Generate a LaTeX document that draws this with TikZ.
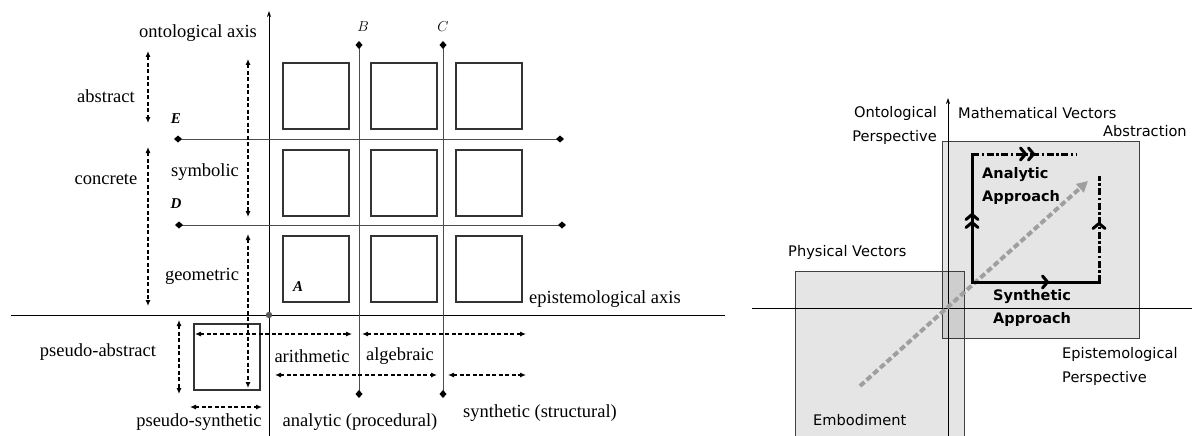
\documentclass[tikz,border=0pt]{standalone}
\usepackage{fontspec}
\setmainfont{Liberation Serif}
\newfontfamily\dejavu{DejaVu Sans}
\usetikzlibrary{arrows.meta, positioning}

\begin{document}
\begin{tikzpicture}[
        x=1pt, y=-1pt,
        every node/.style={inner sep=0pt, font=\fontsize{18.5}{22}\selectfont},
        cell/.style={rectangle, draw=black!80, line width=1.2pt, minimum size=66pt},
        tag/.style={font=\fontsize{15}{17}\selectfont\bfseries\itshape},
        ptlabel/.style={font=\fontsize{14}{16}\selectfont},
        rangearrow/.style={dash pattern=on 4pt off 2.5pt, line width=1.1pt, {Latex[length=6pt,width=5pt]}-{Latex[length=6pt,width=5pt]}},
        gridline/.style={black!70, line width=1pt, {Diamond[length=8pt,width=7pt,color=black]}-{Diamond[length=8pt,width=7pt,color=black]}},
        axisline/.style={line width=0.9pt},
        sans/.style={font=\dejavu\fontsize{14.6}{24}\selectfont, align=left},
        sansbold/.style={font=\dejavu\bfseries\fontsize{14.5}{23}\selectfont, align=left},
        region/.style={draw=black!75, line width=0.8pt, fill=black, fill opacity=0.1},
        solidpath/.style={line width=3pt},
        dashdotpath/.style={line width=3pt, dash pattern=on 7pt off 2.5pt on 2.5pt off 2.5pt},
        barb/.tip={Straight Barb[length=5pt, width=12pt, line width=3pt 0, round]}
    ]
        \useasboundingbox (0,0) rectangle (1192,436);

        % left figure
        \foreach \r/\y in {1/96, 2/183, 3/269}
            \foreach \c/\x in {1/316, 2/404, 3/489}
                \node (cell-\r-\c) [cell] at (\x,\y) {};
        \node (pseudo) [cell] at (227,357) {};

        \coordinate (origin) at (269,315);
        \draw [axisline, -{Stealth[length=6pt,width=4pt]}] (269,436) -- (269,11);
        \draw [axisline] (11,315) -- (725,315);
        \fill [black!65] (origin) circle (3.2pt);

        \draw [gridline] (359,41) -- (359,398);
        \draw [gridline] (443,41) -- (443,398);
        \draw [gridline] (174,139) -- (564,139);
        \draw [gridline] (175,225) -- (566,225);

        \draw [rangearrow] (148,51) -- (148,123);
        \draw [rangearrow] (148,147) -- (148,306);
        \draw [rangearrow] (248,59) -- (248,217);
        \draw [rangearrow] (248,234) -- (248,388);
        \draw [rangearrow] (179,320) -- (179,394);
        \draw [rangearrow] (190,407) -- (262,407);
        \draw [rangearrow] (195,334) -- (352,334);
        \draw [rangearrow] (362,334) -- (526,334);
        \draw [rangearrow] (275,375) -- (437,375);
        \draw [rangearrow] (448,375) -- (526,375);

        \node (ontAxis) at (198,33) {ontological axis};
        \node (lblB) [ptlabel] at (363,27) {$B$};
        \node (lblC) [ptlabel] at (443,27) {$C$};
        \node (abstract) at (106,96) {abstract};
        \node (lblE) [tag] at (176,119) {E};
        \node (concrete) at (106,179) {concrete};
        \node (symbolic) at (205,172) {symbolic};
        \node (lblD) [tag] at (176,204) {D};
        \node (geometric) at (202,276) {geometric};
        \node (lblA) [tag] at (298,287) {A};
        \node (epiAxis) [anchor=west] at (529,299) {epistemological axis};
        \node (pseudoAbs) at (98,352) {pseudo-abstract};
        \node (arithmetic) at (312,356) {arithmetic};
        \node (algebraic) at (400,356) {algebraic};
        \node (pseudoSyn) at (199,422) {pseudo-synthetic};
        \node (analytic) at (360,422) {analytic (procedural)};
        \node (synthetic) [anchor=west] at (463,413) {synthetic (structural)};

        % right figure
        \draw [region] (942,141) rectangle (1139,338);
        \draw [region] (795,271) rectangle (964,445);
        \draw [axisline, -{Stealth[length=6pt,width=4pt]}] (948,436) -- (948,98);
        \draw [axisline] (752,308) -- (1192,308);

        \node (ontPersp) [sans, align=right, anchor=east] at (937,125) {Ontological\\Perspective};
        \node (mathVec) [sans, anchor=west] at (958,113) {Mathematical Vectors};
        \node (abstraction) [sans, anchor=west] at (1103,131) {Abstraction};
        \node (physVec) [sans, anchor=west] at (788,252) {Physical Vectors};
        \node (embodiment) [sans, anchor=west] at (813,420) {Embodiment};
        \node (epiPersp) [sans, anchor=west] at (1062,366) {Epistemological\\Perspective};
        \node (anaAppr) [sansbold, anchor=west] at (982,186) {Analytic\\Approach};
        \node (synAppr) [sansbold, anchor=west] at (993,308) {Synthetic\\Approach};

        \draw [gray!75, line width=4pt, dash pattern=on 6pt off 3pt, -{Triangle[length=11pt,width=11pt]}] (860,386) -- (1088,181);

        \draw [solidpath, -{barb[]barb[]}] (972,283.5) -- (972,213);
        \draw [solidpath] (972,216) -- (972,152.5);
        \draw [dashdotpath, -{barb[]barb[]}] (972,154) -- (1035,154);
        \draw [dashdotpath] (1032,154) -- (1077,154);
        \draw [solidpath, -{barb[]}] (970.5,282) -- (1049,282);
        \draw [solidpath] (1045,282) -- (1100.5,282);
        \draw [dashdotpath, -{barb[]}] (1099,282) -- (1099,222);
        \draw [dashdotpath] (1099,224) -- (1099,176);
\end{tikzpicture}
\end{document}
